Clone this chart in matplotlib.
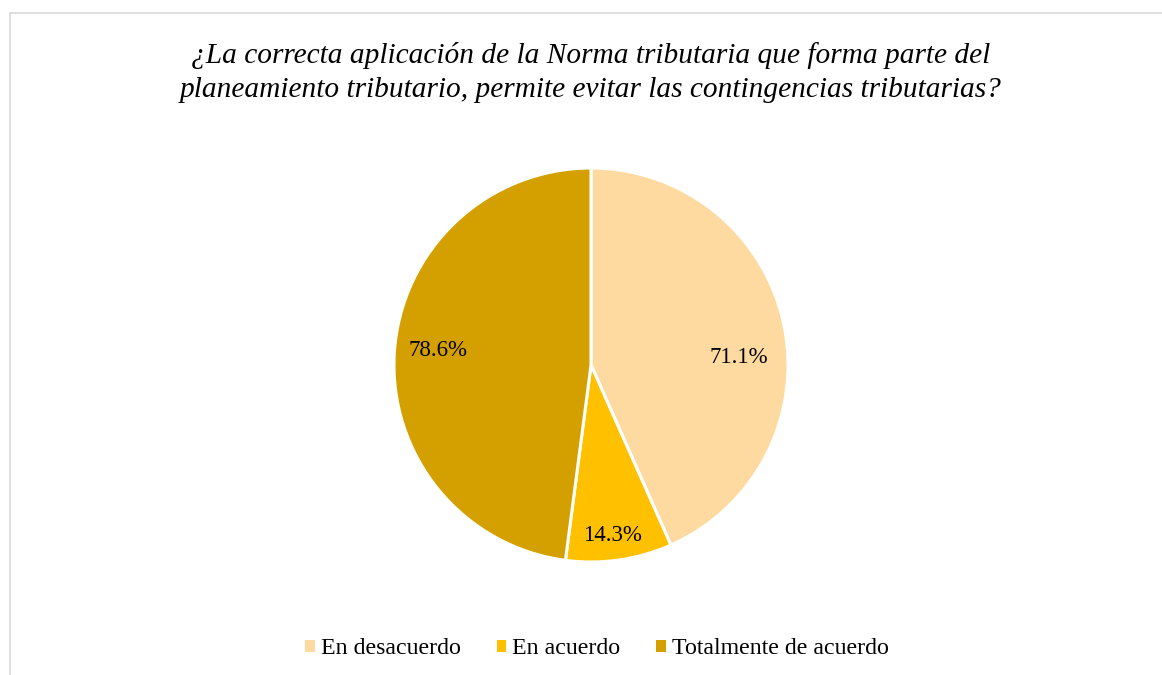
import numpy as np
import matplotlib
matplotlib.use('Agg')
import matplotlib.pyplot as plt
from matplotlib.patches import Rectangle

categories = ['En desacuerdo', 'En acuerdo', 'Totalmente de acuerdo']
values = [71.1, 14.3, 78.6]
labels = ['71.1%', '14.3%', '78.6%']
colors = ['#FED9A0', '#FFC000', '#D4A000']

title = ('¿La correcta aplicación de la Norma tributaria que forma parte del\n'
         'planeamiento tributario, permite evitar las contingencias tributarias?')

plt.rcParams['font.family'] = ['Liberation Serif', 'DejaVu Serif']

W, H = 1162, 675
fig = plt.figure(figsize=(W / 100, H / 100), dpi=100)

# chart frame
fig.patches.append(Rectangle((10 / W, -0.1), 1.2, 1 - 13 / H + 0.1, transform=fig.transFigure,
                             fill=False, edgecolor='#D9D9D9', linewidth=1.2))

cx, cy, r = 591, 365, 197
ax = fig.add_axes([(cx - r) / W, (H - cy - r) / H, 2 * r / W, 2 * r / H])
wedges, _ = ax.pie(values, colors=colors, startangle=90, counterclock=False,
                   radius=1, wedgeprops=dict(edgecolor='white', linewidth=2.2))
ax.set_xlim(-1, 1)
ax.set_ylim(-1, 1)
ax.set_aspect('equal')
ax.axis('off')

# label placement (distance from centre, angle shift in degrees)
label_dist = [0.75, 0.87, 0.78]
label_shift = [-9, -1, -1.5]
for w, lab, d, s in zip(wedges, labels, label_dist, label_shift):
    ang = np.deg2rad((w.theta1 + w.theta2) / 2 + s)
    ax.text(d * np.cos(ang), d * np.sin(ang), lab, ha='center', va='center',
            fontsize=16.5, color='black')

fig.text(591 / W, 1 - 72.5 / H, title, ha='center', va='center', fontsize=21.2,
         style='italic', linespacing=1.4)

handles = [Rectangle((0, 0), 1, 1, facecolor=c, edgecolor='none') for c in colors]
fig.legend(handles, categories, loc='center', bbox_to_anchor=(597 / W, 1 - 649 / H),
           ncol=3, frameon=False, fontsize=17.2, handlelength=0.4, handleheight=0.4,
           handletextpad=0.25, columnspacing=1.5)

fig.savefig('out.png', dpi=100)
